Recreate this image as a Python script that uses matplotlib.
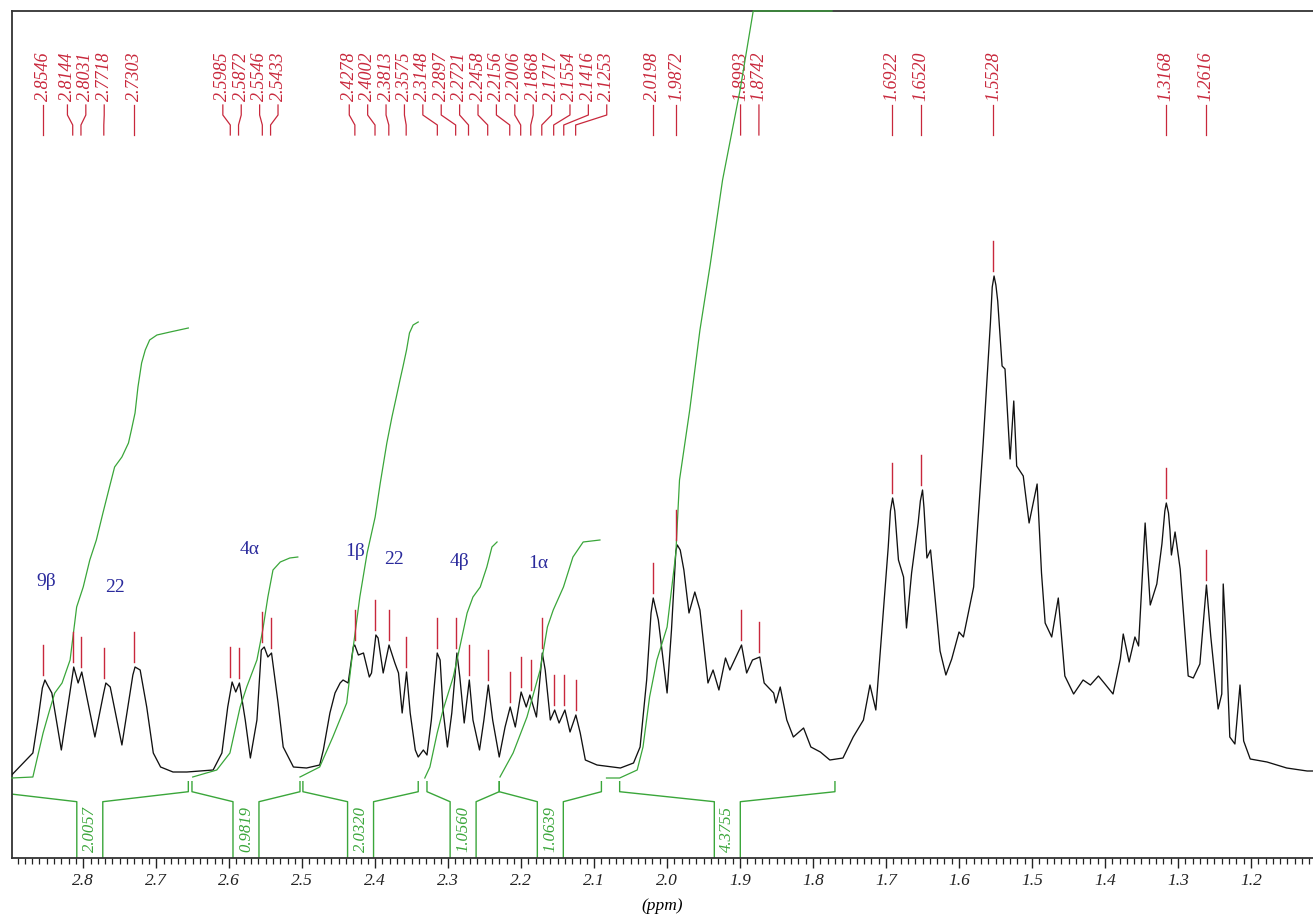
import numpy as np
import matplotlib.pyplot as plt
from matplotlib.ticker import MultipleLocator, FormatStrFormatter

plt.rcParams['font.family'] = 'serif'
plt.rcParams['font.serif'] = ['Liberation Serif', 'DejaVu Serif']

# 1H spectrum trace (ppm, intensity in arbitrary units)
ppm = [2.898, 2.869, 2.862, 2.856, 2.8525, 2.849, 2.843, 2.830, 2.813, 2.807,
       2.802, 2.784, 2.772, 2.769, 2.763, 2.747, 2.732, 2.729, 2.722, 2.713,
       2.704, 2.694, 2.677, 2.658,
       2.622, 2.610, 2.602, 2.596, 2.591, 2.586, 2.578, 2.571, 2.562, 2.556,
       2.552, 2.547, 2.542, 2.533, 2.526, 2.512, 2.494, 2.476,
       2.471, 2.462, 2.455, 2.448, 2.444, 2.437, 2.430, 2.428, 2.423, 2.416,
       2.408, 2.405, 2.399, 2.396, 2.389, 2.381, 2.373, 2.368, 2.363, 2.357,
       2.352, 2.345, 2.341, 2.334, 2.329, 2.323, 2.315, 2.311, 2.307, 2.301,
       2.295, 2.288, 2.284, 2.278, 2.271, 2.266, 2.257, 2.251, 2.245, 2.239,
       2.230, 2.222, 2.215, 2.208, 2.200, 2.193, 2.188, 2.179, 2.171, 2.167,
       2.160, 2.154, 2.148, 2.140, 2.133, 2.125, 2.119, 2.112, 2.096,
       2.064, 2.046, 2.037, 2.028, 2.022, 2.019, 2.012, 2.000, 1.994, 1.988,
       1.986, 1.982, 1.977, 1.970, 1.962, 1.955, 1.944, 1.937, 1.929, 1.920,
       1.914, 1.898, 1.891, 1.883, 1.873, 1.867, 1.854, 1.851, 1.845, 1.836,
       1.827, 1.813, 1.803, 1.790, 1.777, 1.759, 1.745, 1.731, 1.722, 1.714,
       1.705, 1.697, 1.694, 1.691, 1.688, 1.683, 1.676, 1.672, 1.665, 1.656,
       1.653, 1.650, 1.648, 1.644,
       1.639, 1.626, 1.618, 1.610, 1.600, 1.594, 1.580, 1.567, 1.557, 1.5545,
       1.552, 1.5495, 1.547, 1.541, 1.537, 1.530, 1.525, 1.521, 1.512, 1.504,
       1.493, 1.487, 1.482, 1.473, 1.464, 1.455, 1.443, 1.430, 1.420, 1.409,
       1.400, 1.389, 1.379, 1.375, 1.367, 1.359, 1.354, 1.345, 1.338, 1.329,
       1.322, 1.318, 1.316, 1.313, 1.311, 1.309, 1.304, 1.297, 1.286, 1.279,
       1.270, 1.261, 1.255, 1.245, 1.240, 1.238, 1.234, 1.229, 1.222, 1.215,
       1.210, 1.201, 1.178, 1.151, 1.123, 1.115]
inten = [-2, 20, 53, 85, 93, 88, 80, 23, 106, 90,
         101, 36, 80, 90, 86, 28, 98, 106, 103, 66,
         20, 6, 1, 1,
         3, 20, 66, 91, 81, 90, 53, 15, 53, 123,
         126, 116, 120, 70, 26, 6, 5, 8,
         23, 60, 80, 90, 93, 90, 126, 128, 118, 120,
         96, 100, 138, 135, 100, 128, 110, 100, 60, 101,
         60, 23, 16, 23, 18, 53, 120, 113, 63, 26,
         60, 120, 96, 50, 93, 53, 23, 53, 88, 53,
         16, 46, 66, 46, 81, 66, 78, 56, 120, 103,
         53, 63, 50, 63, 41, 58, 40, 13, 8,
         5, 10, 26, 93, 160, 175, 153, 80, 143, 222,
         228, 223, 203, 160, 181, 163, 90, 103, 83, 115,
         103, 128, 100, 113, 116, 90, 80, 70, 86, 53,
         36, 45, 26, 21, 13, 15, 36, 53, 88, 63,
         150, 226, 262, 275, 262, 213, 196, 145, 200, 250,
         272, 283, 265, 215,
         223, 122, 98, 114, 141, 136, 186, 329, 450, 486,
         497, 488, 472, 407, 404, 314, 372, 307, 297, 250,
         289, 200, 150, 136, 175, 97, 79, 93, 88, 97,
         89, 79, 114, 139, 111, 136, 127, 250, 168, 189,
         229, 262, 270, 260, 243, 218, 241, 204, 97, 95,
         109, 188, 136, 64, 79, 189, 132, 36, 29, 88,
         32, 14, 11, 5, 2, 2]

# picked peaks (ppm)
peaks = [2.8546, 2.8144, 2.8031, 2.7718, 2.7303, 2.5985, 2.5872, 2.5546, 2.5433,
         2.4278, 2.4002, 2.3813, 2.3575, 2.3148, 2.2897, 2.2721, 2.2458, 2.2156,
         2.2006, 2.1868, 2.1717, 2.1554, 2.1416, 2.1253, 2.0198, 1.9872, 1.8993,
         1.8742, 1.6922, 1.6520, 1.5528, 1.3168, 1.2616]

# integral curves (ppm, height)
int_ppm = [
    [2.898, 2.869, 2.855, 2.846, 2.839, 2.829, 2.818, 2.809, 2.800, 2.791, 2.782,
     2.773, 2.764, 2.757, 2.747, 2.738, 2.734, 2.729, 2.725, 2.720, 2.715, 2.709,
     2.699, 2.681, 2.656],
    [2.650, 2.617, 2.599, 2.585, 2.576, 2.562, 2.554, 2.547, 2.540, 2.530, 2.517, 2.506],
    [2.503, 2.476, 2.458, 2.439, 2.430, 2.421, 2.411, 2.400, 2.393, 2.384, 2.377,
     2.371, 2.366, 2.362, 2.357, 2.353, 2.348, 2.341],
    [2.332, 2.325, 2.315, 2.307, 2.293, 2.284, 2.274, 2.266, 2.256, 2.247, 2.240, 2.233],
    [2.229, 2.211, 2.192, 2.174, 2.164, 2.156, 2.142, 2.129, 2.115, 2.092],
    [2.083, 2.065, 2.041, 2.033, 2.024, 2.014, 2.000, 1.994, 1.988, 1.983, 1.969,
     1.955, 1.941, 1.924, 1.900, 1.882, 1.774],
]
int_val = [
    [-5, -4, 40, 63, 80, 90, 113, 166, 186, 213, 233, 260, 286, 306, 316, 330, 343,
     360, 386, 410, 423, 433, 438, 441, 445],
    [-4, 3, 20, 66, 86, 113, 143, 176, 203, 211, 215, 216],
    [-4, 6, 36, 70, 126, 176, 220, 256, 290, 330, 356, 376, 393, 406, 423, 440, 448, 451],
    [-5, 6, 40, 63, 96, 126, 160, 176, 186, 206, 226, 231],
    [-4, 20, 56, 103, 146, 163, 186, 216, 231, 233],
    [-5, -5, 3, 26, 76, 113, 146, 183, 220, 293, 363, 443, 508, 593, 683, 762, 762],
]

# integration regions and values
reg_start = [2.926, 2.651, 2.499, 2.329, 2.230, 2.065]
reg_end = [2.656, 2.503, 2.341, 2.230, 2.090, 1.770]
reg_value = [2.0057, 0.9819, 2.0320, 1.0560, 1.0639, 4.3755]

# assignments
assign_text = ['9β', '22', '4α', '1β', '22', '4β', '1α']
assign_ppm = [2.851, 2.757, 2.572, 2.428, 2.374, 2.284, 2.176]
assign_y = [191, 185, 223, 221, 213, 211, 210]

black = '#111111'
green = '#3aa63a'
red = '#c8283c'
blue = '#2a2a9c'

fig = plt.figure(figsize=(13.13, 9.17), dpi=100)
ax = fig.add_axes([11.7 / 1313, 59 / 917, 1 - 11.7 / 1313, 847.5 / 917])
ax.set_xlim(2.898, 1.115)
ax.set_ylim(-85, 762.5)

ax.plot(ppm, inten, color=black, lw=0.95, zorder=3)

for xs, ys in zip(int_ppm, int_val):
    ax.plot(xs, ys, color=green, lw=0.9, zorder=4, clip_on=False)

# peak markers and labels
ppm_a = np.array(ppm)
inten_a = np.array(inten)
for p in peaks:
    m = np.abs(ppm_a - p) <= 0.005
    top = inten_a[m].max()
    ax.plot([p, p], [top + 5, top + 35], color=red, lw=1.0, zorder=5)

# spread crowded labels apart
gap = 0.0252
pos = np.array(peaks, float)
for _ in range(800):
    for i in range(len(pos) - 1):
        d = pos[i] - pos[i + 1]
        if d < gap:
            s = (gap - d) / 2
            pos[i] += s
            pos[i + 1] -= s

for p, lp in zip(peaks, pos):
    ax.plot([lp, lp, p, p], [668, 658, 648, 638], color=red, lw=0.9)
    ax.text(lp, 672, f'{p:.4f}', rotation=90, ha='center', va='bottom',
            color=red, fontsize=13, fontstyle='italic')

# integral brackets
hg = 0.0178
for s, e, v in zip(reg_start, reg_end, reg_value):
    c = (s + e) / 2
    xl, xr = c + hg, c - hg
    ax.plot([s, s, xl, xl], [-8.7, -18.7, -28.7, -85], color=green, lw=1.0)
    ax.plot([xr, xr, e, e], [-85, -28.7, -18.7, -8.7], color=green, lw=1.0)
    ax.text(c, -56, f'{v:.4f}', rotation=90, ha='center', va='center',
            color=green, fontsize=12, fontstyle='italic')

for t, x, y in zip(assign_text, assign_ppm, assign_y):
    ax.text(x, y, t, ha='center', va='center', color=blue, fontsize=14)

# axes look
for side in ['top', 'left', 'bottom']:
    ax.spines[side].set_color('#333333')
    ax.spines[side].set_linewidth(1.3)
ax.spines['right'].set_visible(False)
ax.set_yticks([])
ax.xaxis.set_major_locator(MultipleLocator(0.1))
ax.xaxis.set_minor_locator(MultipleLocator(0.01))
ax.xaxis.set_major_formatter(FormatStrFormatter('%.1f'))
ax.tick_params(axis='x', which='major', direction='out', length=7, width=1.0,
               pad=4, labelsize=12.5, colors='#222222')
ax.tick_params(axis='x', which='minor', direction='out', length=4, width=0.9,
               colors='#222222')
for lbl in ax.get_xticklabels():
    lbl.set_fontstyle('italic')
ax.set_xlabel('(ppm)', fontsize=12.5, fontstyle='italic', labelpad=6)

fig.savefig('out.png', dpi=100)
